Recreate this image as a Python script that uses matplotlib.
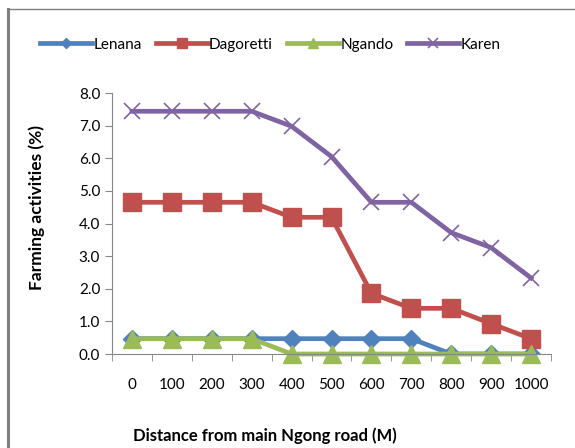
import numpy as np
import matplotlib.pyplot as plt
from matplotlib.lines import Line2D

# Farming activity share by distance from the road
distance = ['0', '100', '200', '300', '400', '500', '600', '700', '800', '900', '1000']
lenana = [0.47, 0.47, 0.47, 0.47, 0.47, 0.47, 0.47, 0.47, 0.0, 0.0, 0.0]
dagoretti = [4.65, 4.65, 4.65, 4.65, 4.19, 4.19, 1.86, 1.40, 1.40, 0.93, 0.47]
ngando = [0.47, 0.47, 0.47, 0.47, 0.0, 0.0, 0.0, 0.0, 0.0, 0.0, 0.0]
karen = [7.44, 7.44, 7.44, 7.44, 6.98, 6.05, 4.65, 4.65, 3.72, 3.26, 2.33]

plt.rcParams['font.family'] = ['Lato', 'DejaVu Sans']

fig = plt.figure(figsize=(5.75, 4.48), dpi=100)
ax = fig.add_axes([0.1948, 0.2098, 0.7635, 0.5826])

x = np.arange(len(distance))
ax.plot(x, lenana, color='#4F81BD', lw=3.4, marker='D', ms=9, label='Lenana')
ax.plot(x, dagoretti, color='#C0504D', lw=3.4, marker='s', ms=12.5, label='Dagoretti')
ax.plot(x, ngando, color='#9BBB59', lw=3.4, marker='^', ms=13, label='Ngando', clip_on=False)
ax.plot(x, karen, color='#8064A2', lw=3.4, marker='x', ms=11.5, mew=1.2, label='Karen')

ax.set_xlim(-0.5, len(distance) - 0.5)
ax.set_ylim(0, 8)
ax.set_yticks(np.arange(0, 8.1, 1.0))
ax.set_yticklabels(['%.1f' % v for v in np.arange(0, 8.1, 1.0)])
ax.set_xticks(x)
ax.set_xticklabels(distance)
ax.set_xticks(np.arange(-0.5, len(distance)), minor=True)
ax.tick_params(axis='x', which='major', length=0, pad=17, labelsize=11)
ax.tick_params(axis='x', which='minor', length=5, color='#868686')
ax.tick_params(axis='y', length=5, color='#868686', labelsize=11)

for side in ['top', 'right']:
    ax.spines[side].set_visible(False)
for side in ['left', 'bottom']:
    ax.spines[side].set_color('#868686')

fig.text(37 / 575, 1 - 207 / 448, 'Farming activities (%)', fontsize=12.5,
         fontweight='bold', rotation=90, ha='center', va='center')
fig.text(265 / 575, 1 - 436 / 448, 'Distance from main Ngong road (M)', fontsize=12,
         fontweight='bold', ha='center', va='center')

ax.legend(loc='center', bbox_to_anchor=(0.47, 0.9, 0, 0), bbox_transform=fig.transFigure,
          ncol=4, frameon=False, fontsize=11, handlelength=3.4, handletextpad=0.1,
          columnspacing=0.9, markerscale=0.6)

# Frame lines on the left and top of the chart area
fig.add_artist(Line2D([8 / 575, 8 / 575], [0, 1 - 9 / 448], color='#7f7f7f', lw=2.2))
fig.add_artist(Line2D([8 / 575, 1], [1 - 9 / 448, 1 - 9 / 448], color='#7f7f7f', lw=1))

fig.savefig('out.png', dpi=100)
